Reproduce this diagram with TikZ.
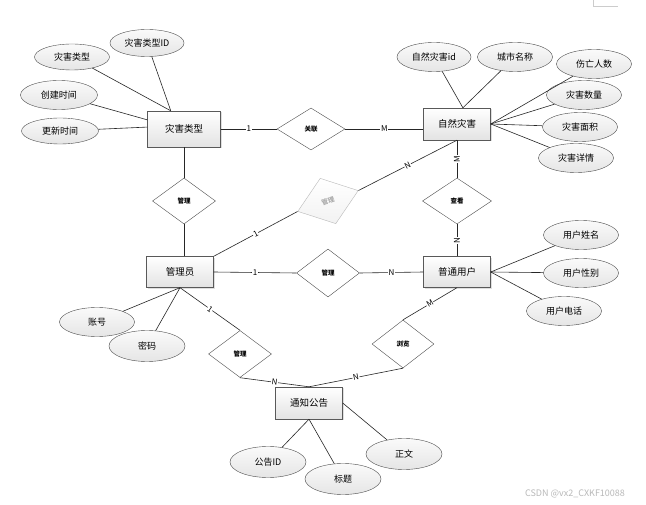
\documentclass[tikz,border=0pt]{standalone}
\usepackage{fontspec}
\setmainfont{Noto Sans CJK SC}
\usetikzlibrary{shapes.geometric,shadows}
\begin{document}
\begin{tikzpicture}[x=1pt,y=-1pt,
 ent/.style={rectangle, draw=gray!70!black, top color=white, bottom color=gray!22, minimum width=67pt, minimum height=32pt, inner sep=0pt, font=\fontsize{9.5}{10}\selectfont, drop shadow={shadow xshift=1.2pt,shadow yshift=-1.2pt,opacity=0.25}},
 attr/.style={ellipse, draw=gray!60!black, top color=gray!4, bottom color=gray!20, minimum width=75pt, minimum height=29pt, inner sep=0pt, font=\fontsize{9}{10}\selectfont},
 rel/.style={diamond, draw=gray!60!black, fill=white, minimum width=63pt, minimum height=47pt, inner sep=0pt, font=\bfseries\fontsize{6.5}{7}\selectfont},
 ln/.style={draw=gray!30!black, line width=0.6pt},
 card/.style={fill=white, inner sep=0.6pt, font=\fontsize{8}{9}\selectfont},
]
\fill[white] (0,0) rectangle (646,505);
\useasboundingbox (0,0) rectangle (646,505);
\draw[gray!40, line width=0.8pt] (593,0) -- (593,6) -- (618,6);

% entities
\node[ent, minimum width=73pt, minimum height=36pt] (zt) at (184,129) {灾害类型};
\node[ent] (nd) at (457,124) {自然灾害};
\node[ent, minimum height=31pt] (gly) at (180,272) {管理员};
\node[ent, minimum height=31pt] (pt) at (457,272) {普通用户};
\node[ent] (tz) at (309,403) {通知公告};

% attributes
\node[attr, minimum width=74pt, minimum height=27pt] (a1) at (147,43) {灾害类型ID};
\node[attr, minimum height=26pt] (a2) at (72,57) {灾害类型};
\node[attr, minimum width=77pt] (a3) at (59,95) {创建时间};
\node[attr, minimum width=77pt, minimum height=26pt] (a4) at (60,131) {更新时间};
\node[attr, minimum width=74pt] (b1) at (434,57) {自然灾害id};
\node[attr] (b2) at (515,57) {城市名称};
\node[attr] (b3) at (594,64) {伤亡人数};
\node[attr] (b4) at (584,95) {灾害数量};
\node[attr] (b5) at (580,127) {灾害面积};
\node[attr] (b6) at (576,158) {灾害详情};
\node[attr] (c1) at (581,235) {用户姓名};
\node[attr] (c2) at (581,273) {用户性别};
\node[attr] (c3) at (564,311) {用户电话};
\node[attr] (d1) at (97,322) {账号};
\node[attr, minimum width=76pt, minimum height=31pt] (d2) at (147,346) {密码};
\node[attr, minimum width=76pt, minimum height=31pt] (e1) at (268,462) {公告ID};
\node[attr, minimum width=76pt, minimum height=31pt] (e2) at (343,479) {标题};
\node[attr, minimum width=76pt, minimum height=31pt] (e3) at (404,454) {正文};

% relations
\node[rel, minimum width=68pt, minimum height=42pt] (r1) at (311,129) {关联};
\node[rel, minimum height=46pt] (r2) at (184,201) {管理};
\node[rel, minimum width=64pt, minimum height=48pt, draw=gray!55, top color=white, bottom color=gray!10, text=gray!65, rotate=19] (r3) at (328,201) {管理};
\node[rel, minimum width=69pt, minimum height=46pt] (r4) at (457,201) {查看};
\node[rel, minimum height=48pt] (r5) at (328,273) {管理};
\node[rel] (r6) at (240,354) {管理};
\node[rel, minimum width=62pt, minimum height=48pt] (r7) at (403,344) {浏览};

% attribute connectors
\draw[ln] (a1) -- (zt.126);
\draw[ln] (a2) -- (zt.126);
\draw[ln] (a3) -- (zt.166);
\draw[ln] (a4) -- (zt.177);
\draw[ln] (b1) -- (nd.70);
\draw[ln] (b2) -- (nd.70);
\draw[ln] (b3) -- (nd.east);
\draw[ln] (b4) -- (nd.east);
\draw[ln] (b5) -- (nd.east);
\draw[ln] (b6) -- (nd.east);
\draw[ln] (c1) -- (pt.east);
\draw[ln] (c2) -- (pt.east);
\draw[ln] (c3) -- (pt.east);
\draw[ln] (d1) -- (gly.south);
\draw[ln] (d2) -- (gly.south);
\draw[ln] (e1) -- (tz.south);
\draw[ln] (e2) -- (tz.south);
\draw[ln] (e3) -- (tz.east);

% relationship connectors
\draw[ln] (zt.east) -- node[card]{1} (r1.west);
\draw[ln] (r1.east) -- node[card]{M} (r1.east -| nd.west);
\draw[ln] (zt.south) -- (r2.north);
\draw[ln] (r2.south) -- (r2.south |- gly.north);
\draw[ln] (gly.north east) -- node[card,sloped]{1} (r3.west);
\draw[ln] (r3.east) -- node[card,sloped]{N} (nd.south);
\draw[ln] (nd.south) -- node[card,rotate=90]{M} (r4.north);
\draw[ln] (r4.south) -- node[card,rotate=90]{N} (pt.north);
\draw[ln] (gly.east) -- node[card]{1} (r5.west);
\draw[ln] (r5.east) -- node[card]{N} (pt.west);
\draw[ln] (gly.south) -- node[card,sloped]{1} (r6.north);
\draw[ln] (r6.south) -- node[card,sloped]{N} (tz.north);
\draw[ln] (r7.south) -- node[card,sloped]{N} (tz.north);
\draw[ln] (pt.south) -- node[card,sloped]{M} (r7.north);

\node[text=gray!55, font=\fontsize{9}{10}\selectfont] (wm) at (575,494) {CSDN @vx2\_CXKF10088};
\end{tikzpicture}
\end{document}
